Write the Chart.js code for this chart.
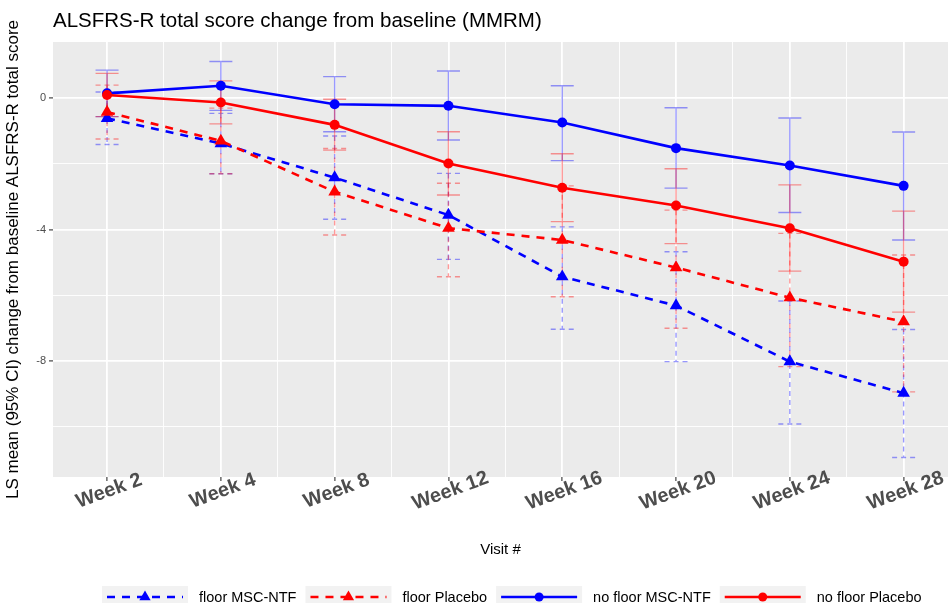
<!DOCTYPE html>
<html>
<head>
<meta charset="utf-8">
<title>ALSFRS-R MMRM</title>
<script src="https://cdn.jsdelivr.net/npm/chart.js@4.4.1/dist/chart.umd.min.js"></script>
<style>
  html, body { margin: 0; padding: 0; background: #fff; }
  #wrap { width: 948px; height: 603px; }
</style>
</head>
<body>
<div id="wrap"><canvas id="mmrmChart" width="948" height="603"></canvas></div>
<script>
const weekLabels = ["Week 2", "Week 4", "Week 8", "Week 12", "Week 16", "Week 20", "Week 24", "Week 28"];

// floor MSC-NTF (LS mean with 95% CI)
const floorMscMean  = [-0.61, -1.38, -2.42, -3.56, -5.44, -6.32, -8.03, -8.99];
const floorMscLower = [-1.41, -2.30, -3.69, -4.91, -7.04, -8.03, -9.93, -10.95];
const floorMscUpper = [0.19, -0.46, -1.15, -2.29, -3.92, -4.68, -6.18, -7.05];

// floor Placebo
const floorPboMean  = [-0.42, -1.30, -2.85, -3.96, -4.32, -5.16, -6.08, -6.81];
const floorPboLower = [-1.24, -2.30, -4.17, -5.44, -6.05, -7.01, -8.18, -8.95];
const floorPboUpper = [0.40, -0.30, -1.53, -2.59, -2.67, -3.41, -4.12, -4.78];

// no floor MSC-NTF
const noFloorMscMean  = [0.15, 0.38, -0.18, -0.23, -0.74, -1.52, -2.05, -2.67];
const noFloorMscLower = [-0.56, -0.37, -1.02, -1.27, -1.90, -2.74, -3.48, -4.32];
const noFloorMscUpper = [0.86, 1.12, 0.66, 0.83, 0.38, -0.29, -0.60, -1.03];

// no floor Placebo
const noFloorPboMean  = [0.10, -0.13, -0.81, -1.99, -2.73, -3.27, -3.96, -4.98];
const noFloorPboLower = [-0.56, -0.78, -1.58, -2.95, -3.76, -4.43, -5.27, -6.52];
const noFloorPboUpper = [0.76, 0.53, -0.03, -1.02, -1.69, -2.15, -2.64, -3.44];

const yLabelTicks = [-8, -4, 0];
const yGridTicks = [-10, -8, -6, -4, -2, 0];

const FONT = "'Liberation Sans', Arial, sans-serif";
const BLUE = "#0000FF";
const RED = "#FF0000";

function toPoints(values) {
  return values.map((v, i) => ({ x: i + 1, y: v }));
}

function series(label, color, ciColor, dashed, marker, mean, lower, upper, order) {
  return {
    label,
    data: toPoints(mean),
    ciLower: lower,
    ciUpper: upper,
    ciColor,
    dashed,
    borderColor: color,
    backgroundColor: color,
    borderWidth: 2.6,
    borderDash: dashed ? [8, 7] : [],
    pointStyle: marker,
    pointRadius: marker === "triangle" ? 7.3 : 5,
    pointBorderWidth: 0,
    pointBackgroundColor: color,
    tension: 0,
    order
  };
}

const datasets = [
  series("floor MSC-NTF", BLUE, "rgba(0,0,255,0.4)", true, "triangle", floorMscMean, floorMscLower, floorMscUpper, 4),
  series("floor Placebo", RED, "rgba(255,0,0,0.4)", true, "triangle", floorPboMean, floorPboLower, floorPboUpper, 2),
  series("no floor MSC-NTF", BLUE, "rgba(0,0,255,0.4)", false, "circle", noFloorMscMean, noFloorMscLower, noFloorMscUpper, 3),
  series("no floor Placebo", RED, "rgba(255,0,0,0.4)", false, "circle", noFloorPboMean, noFloorPboLower, noFloorPboUpper, 1)
];

// grey panel behind the grid
const panelPlugin = {
  id: "panel",
  beforeDraw(chart) {
    const { ctx, chartArea: a } = chart;
    ctx.save();
    ctx.fillStyle = "#EBEBEB";
    ctx.fillRect(a.left, a.top, a.right - a.left, a.bottom - a.top);
    ctx.restore();
  }
};

// 95% CI whiskers, drawn under lines and markers
const errorBarPlugin = {
  id: "errorBars",
  beforeDatasetsDraw(chart) {
    const { ctx, scales: { x, y } } = chart;
    const cap = 11.5;
    const sorted = chart.data.datasets.slice().sort((a, b) => b.order - a.order);
    ctx.save();
    sorted.forEach(ds => {
      ctx.strokeStyle = ds.ciColor;
      ctx.lineWidth = 1.4;
      ctx.setLineDash(ds.dashed ? [5, 4] : []);
      ds.ciLower.forEach((lo, i) => {
        const px = x.getPixelForValue(i + 1);
        const pLo = y.getPixelForValue(lo);
        const pHi = y.getPixelForValue(ds.ciUpper[i]);
        ctx.beginPath();
        ctx.moveTo(px, pHi);
        ctx.lineTo(px, pLo);
        ctx.moveTo(px - cap, pHi);
        ctx.lineTo(px + cap, pHi);
        ctx.moveTo(px - cap, pLo);
        ctx.lineTo(px + cap, pLo);
        ctx.stroke();
      });
    });
    ctx.restore();
  }
};

function drawMarker(ctx, style, cx, cy, r) {
  ctx.beginPath();
  if (style === "triangle") {
    ctx.moveTo(cx, cy - r);
    ctx.lineTo(cx + r * Math.sin(Math.PI / 3), cy + r / 2);
    ctx.lineTo(cx - r * Math.sin(Math.PI / 3), cy + r / 2);
    ctx.closePath();
  } else {
    ctx.arc(cx, cy, r, 0, Math.PI * 2);
  }
  ctx.fill();
}

// slanted week labels and the key along the bottom
const labelsAndKeyPlugin = {
  id: "labelsAndKey",
  afterDraw(chart) {
    const { ctx, scales: { x }, chartArea: a } = chart;
    ctx.save();
    ctx.fillStyle = "#4D4D4D";
    ctx.font = "bold 20px " + FONT;
    ctx.textAlign = "center";
    ctx.textBaseline = "middle";
    weekLabels.forEach((lab, i) => {
      const px = x.getPixelForValue(i + 1);
      ctx.save();
      ctx.translate(px + 2, a.bottom + 14);
      ctx.rotate(-20 * Math.PI / 180);
      ctx.fillText(lab, 0, 0);
      ctx.restore();
    });

    const keyW = 86, keyTop = 586, lineY = 597;
    let kx = 102;
    ctx.font = "14.5px " + FONT;
    ctx.textAlign = "left";
    chart.data.datasets.forEach(ds => {
      ctx.fillStyle = "#F2F2F2";
      ctx.fillRect(kx, keyTop, keyW, 24);
      ctx.strokeStyle = ds.borderColor;
      ctx.lineWidth = 2.6;
      ctx.setLineDash(ds.borderDash);
      ctx.beginPath();
      ctx.moveTo(kx + 5, lineY);
      ctx.lineTo(kx + keyW - 5, lineY);
      ctx.stroke();
      ctx.setLineDash([]);
      ctx.fillStyle = ds.borderColor;
      drawMarker(ctx, ds.pointStyle, kx + keyW / 2, lineY, ds.pointStyle === "triangle" ? 6.5 : 4.5);
      ctx.fillStyle = "#000";
      ctx.fillText(ds.label, kx + keyW + 11, lineY + 1);
      kx += keyW + 11 + ctx.measureText(ds.label).width + 9;
    });
    ctx.restore();
  }
};

new Chart(document.getElementById("mmrmChart"), {
  type: "line",
  data: { datasets },
  options: {
    responsive: false,
    animation: false,
    devicePixelRatio: 1,
    layout: { padding: 0, autoPadding: false },
    plugins: {
      legend: { display: false },
      tooltip: { enabled: false },
      title: {
        display: true,
        text: "ALSFRS-R total score change from baseline (MMRM)",
        align: "start",
        fullSize: false,
        color: "#000",
        font: { family: FONT, size: 20.5, weight: "normal", lineHeight: 1.2 },
        padding: { top: 9.4, bottom: 8 }
      }
    },
    scales: {
      x: {
        type: "linear",
        min: 0.525,
        max: 8.39,
        afterBuildTicks(scale) {
          const t = [];
          for (let v = 1; v <= 8; v += 0.5) t.push({ value: v });
          scale.ticks = t;
        },
        afterFit(scale) {
          scale.height = 126;
          scale.paddingLeft = 0;
          scale.paddingRight = 0;
        },
        border: { display: false },
        grid: {
          color: "#FFFFFF",
          lineWidth: c => Number.isInteger(c.tick.value) ? 1.8 : 0.9,
          drawTicks: true,
          tickLength: 4,
          tickColor: c => Number.isInteger(c.tick.value) ? "#333333" : "rgba(0,0,0,0)",
          tickWidth: 1.1
        },
        ticks: { display: false },
        title: {
          display: true,
          text: "Visit #",
          color: "#000",
          font: { family: FONT, size: 15 },
          padding: { top: 0, bottom: 44 }
        }
      },
      y: {
        min: -11.546,
        max: 1.716,
        afterBuildTicks(scale) {
          scale.ticks = yGridTicks.map(v => ({ value: v }));
        },
        afterFit(scale) {
          scale.width = 53;
          scale.paddingTop = 0;
          scale.paddingBottom = 0;
        },
        border: { display: false },
        grid: {
          color: "#FFFFFF",
          lineWidth: c => yLabelTicks.includes(c.tick.value) ? 1.8 : 0.9,
          drawTicks: true,
          tickLength: 4,
          tickColor: c => yLabelTicks.includes(c.tick.value) ? "#333333" : "rgba(0,0,0,0)",
          tickWidth: 1.1
        },
        ticks: {
          color: "#4D4D4D",
          font: { family: FONT, size: 11 },
          padding: 3,
          callback: v => yLabelTicks.includes(v) ? String(v) : ""
        },
        title: {
          display: true,
          text: "LS mean (95% CI) change from baseline ALSFRS-R total score",
          color: "#000",
          font: { family: FONT, size: 17 },
          padding: { top: 3, bottom: 0 }
        }
      }
    }
  },
  plugins: [panelPlugin, errorBarPlugin, labelsAndKeyPlugin]
});
</script>
</body>
</html>
